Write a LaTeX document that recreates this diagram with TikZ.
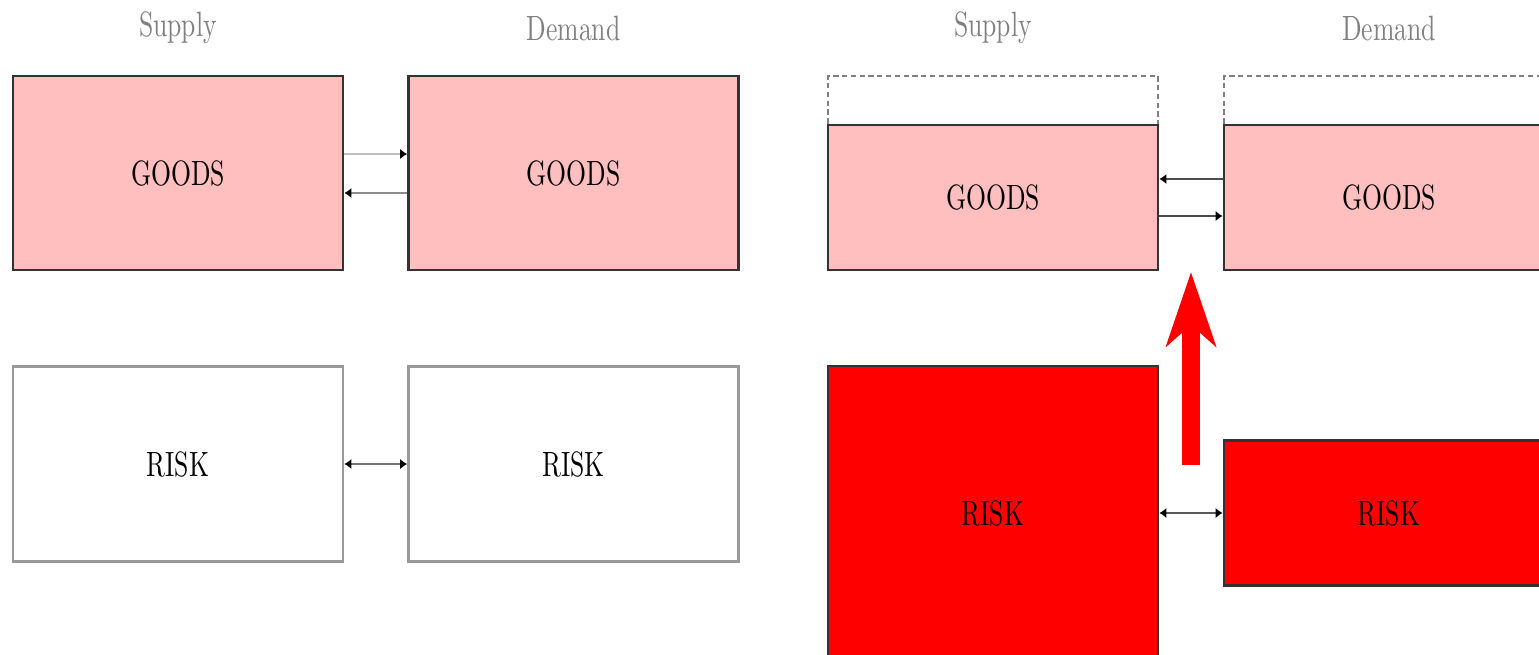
\documentclass[tikz,border=0pt]{standalone}
\usetikzlibrary{arrows.meta}
\newcommand{\narrow}[1]{\scalebox{.73}[1]{#1}}
\tikzset{
    line cap=round,
    market box/.style={draw=black!80, line width=0.8pt, minimum width=3.3cm,
        inner sep=0pt, font=\fontsize{10}{12}\selectfont},
    goods box/.style={market box, fill=red!25, minimum height=#1},
    risk box/.style={market box, fill=#1, minimum height=1.95cm},
    old size/.style={draw=black!50, dash pattern=on 1.5pt off 1pt, line cap=butt,
        line width=0.4pt, minimum width=3.3cm, minimum height=1.94cm, inner sep=0pt},
    side label/.style={text=black!50, font=\fontsize{10}{12}\selectfont},
    flow/.style={line width=0.6pt, draw=#1,
        -{Latex[length=2pt,width=3pt,color=black]}},
    swap/.style={line width=0.6pt, draw=#1,
        {Latex[length=2pt,width=3pt,color=black]}-{Latex[length=2pt,width=3pt,color=black]}},
    shift arrow/.style={red, line width=5pt,
        -{Stealth[length=21pt,width=14pt,inset=6pt]}},
}
\begin{document}
\begin{tikzpicture}
    \clip (0,0) rectangle (15.39,6.54);

    % before the shock
    \node[side label] (sup1) at (1.78,6.26) {\narrow{Supply}};
    \node[side label] (dem1) at (5.735,6.26) {\narrow{Demand}};
    \node[goods box=1.94cm] (sg1) at (1.78,4.81) {\narrow{GOODS}};
    \node[goods box=1.94cm] (dg1) at (5.735,4.81) {\narrow{GOODS}};
    \node[risk box=white, draw=black!40] (sr1) at (1.78,1.90) {\narrow{RISK}};
    \node[risk box=white, draw=black!40] (dr1) at (5.735,1.90) {\narrow{RISK}};

    \draw[flow=black!25] ([yshift=0.19cm]sg1.east) -- ([yshift=0.19cm]dg1.west);
    \draw[flow=black!45] ([yshift=-0.20cm]dg1.west) -- ([yshift=-0.20cm]sg1.east);
    \draw[swap=black!55] (sr1) -- (dr1);

    % after the shock
    \node[side label] (sup2) at (9.93,6.26) {\narrow{Supply}};
    \node[side label] (dem2) at (13.89,6.26) {\narrow{Demand}};
    \node[old size] (os2) at (9.93,4.81) {};
    \node[old size] (od2) at (13.89,4.81) {};
    \node[goods box=1.45cm] (sg2) at (9.93,4.565) {\narrow{GOODS}};
    \node[goods box=1.45cm] (dg2) at (13.89,4.565) {\narrow{GOODS}};
    \node[market box, fill=red, minimum height=2.94cm] (sr2) at (9.93,1.41) {\narrow{RISK}};
    \node[market box, fill=red, minimum height=1.45cm] (dr2) at (13.89,1.41) {\narrow{RISK}};

    \draw[flow=black!70] ([yshift=0.185cm]dg2.west) -- ([yshift=0.185cm]sg2.east);
    \draw[flow=black!70] ([yshift=-0.185cm]sg2.east) -- ([yshift=-0.185cm]dg2.west);
    \draw[swap=black!65] (sr2) -- (dr2);

    \coordinate (from) at (11.91,1.89);
    \coordinate (to) at (11.91,3.82);
    \draw[shift arrow] (from) -- (to);
\end{tikzpicture}
\end{document}
